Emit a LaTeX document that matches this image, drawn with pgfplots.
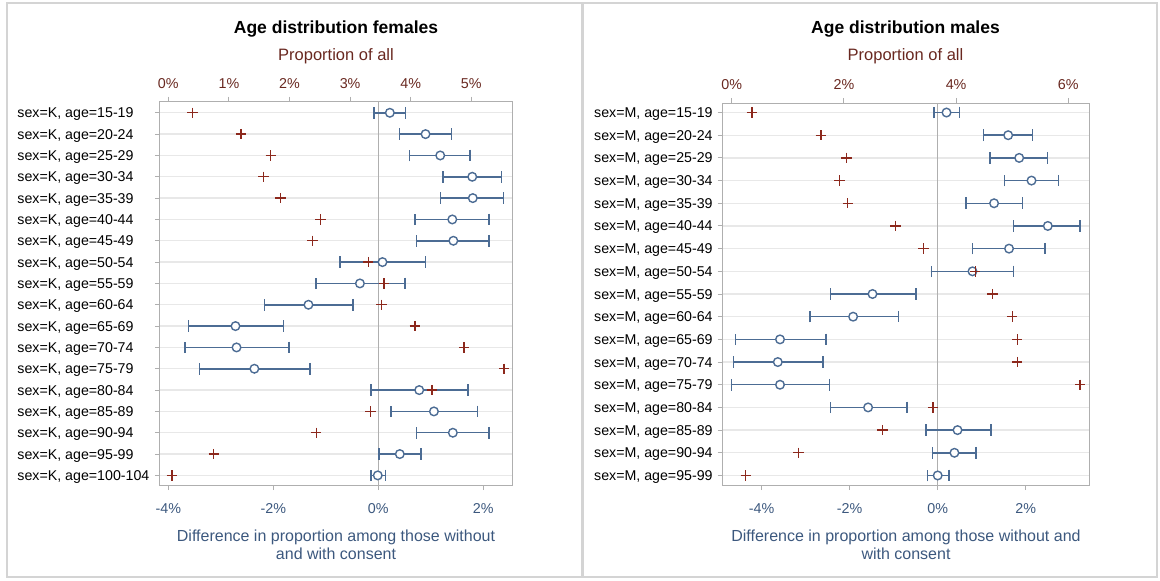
\documentclass[border=0pt]{standalone}
\usepackage{pgfplots}
\pgfplotsset{compat=1.18}
\usepackage{pgfplotstable}
\usepackage{fontspec}
\setmainfont{Liberation Sans}
\definecolor{dblue}{RGB}{76,108,148}
\definecolor{tblue}{RGB}{60,88,126}
\definecolor{dred}{RGB}{140,40,28}
\definecolor{tred}{RGB}{105,40,32}
\definecolor{gridc}{RGB}{232,232,232}
\definecolor{boxc}{RGB}{175,175,175}
\definecolor{framec}{RGB}{212,212,212}

% females: row, diff mean, low, high, proportion of all
\pgfplotstableread{
r m lo hi p
0 0.22 -0.08 0.52 0.40
1 0.90 0.40 1.40 1.20
2 1.18 0.59 1.75 1.69
3 1.79 1.23 2.35 1.57
4 1.80 1.19 2.39 1.85
5 1.41 0.70 2.11 2.51
6 1.43 0.73 2.11 2.38
7 0.08 -0.73 0.90 3.30
8 -0.35 -1.19 0.51 3.56
9 -1.33 -2.17 -0.48 3.52
10 -2.72 -3.62 -1.81 4.07
11 -2.70 -3.68 -1.70 4.88
12 -2.36 -3.41 -1.30 5.54
13 0.78 -0.14 1.71 4.35
14 1.06 0.24 1.89 3.34
15 1.42 0.73 2.11 2.44
16 0.41 0.01 0.81 0.75
17 -0.01 -0.14 0.14 0.06
}\females

% males
\pgfplotstableread{
r m lo hi p
0 0.20 -0.08 0.49 0.36
1 1.60 1.04 2.15 1.59
2 1.85 1.19 2.49 2.05
3 2.13 1.51 2.74 1.92
4 1.28 0.64 1.92 2.07
5 2.50 1.72 3.23 2.92
6 1.62 0.79 2.44 3.42
7 0.79 -0.14 1.72 4.34
8 -1.48 -2.43 -0.49 4.65
9 -1.92 -2.90 -0.89 5.00
10 -3.58 -4.59 -2.54 5.09
11 -3.63 -4.64 -2.60 5.09
12 -3.58 -4.68 -2.46 6.21
13 -1.58 -2.43 -0.70 3.59
14 0.45 -0.27 1.21 2.69
15 0.38 -0.12 0.87 1.19
16 0.00 -0.23 0.26 0.25
}\males

\pgfplotsset{
  diffax/.style={
    scale only axis, anchor=south west, y dir=reverse,
    axis line style={boxc, line width=1pt},
    tick style={boxc, line width=1pt},
    major tick length=5pt, tick align=outside,
    xtick pos=bottom, ytick pos=left,
    ymajorgrids, grid style={gridc, line width=1.3pt},
    xticklabel style={font=\fontsize{14.3}{14}\selectfont, text=tblue, inner sep=0pt, anchor=base, yshift=-23.5pt},
    yticklabel style={font=\fontsize{14.2}{14}\selectfont, text=black, inner sep=0pt, anchor=base west, yshift=-5pt},
    clip=false,
  },
  propax/.style={
    scale only axis, anchor=south west, y dir=reverse,
    axis x line*=top, hide y axis,
    axis line style={boxc, line width=1pt},
    tick style={boxc, line width=1pt},
    major tick length=5pt, tick align=outside,
    xticklabel style={font=\fontsize{14.3}{14}\selectfont, text=tred, inner sep=0pt, anchor=base, yshift=8pt},
    clip=false,
  },
  ebar/.style={only marks, mark=*, mark size=4.3pt,
    mark options={draw=dblue, fill=white, line width=1.4pt},
    error bars/.cd, x dir=both, x explicit,
    error bar style={dblue, line width=1.5pt},
    error mark=|,
    error mark options={dblue, line width=1.4pt, mark size=5.8pt}},
  plusmk/.style={only marks, mark=+, mark size=5.2pt, dred,
    mark options={line width=1.3pt}},
}

\begin{document}
\begin{tikzpicture}
\path[use as bounding box] (0pt,0pt) rectangle (1160pt,581pt);
\draw[framec, line width=2pt] (6.5pt,3.7pt) rectangle (581.5pt,578.3pt);
\draw[framec, line width=2pt] (582.7pt,3.7pt) rectangle (1157.3pt,578.3pt);

% ---------- females ----------
\begin{axis}[diffax, at={(160pt,96pt)}, width=352pt, height=383.3pt,
  xmin=-4.158, xmax=2.547, ymin=-0.52, ymax=17.45,
  xtick={-4,-2,0,2}, xticklabels={-4\%,-2\%,0\%,2\%},
  ytick={0,...,17},
  yticklabels={{sex=K, age=15-19},{sex=K, age=20-24},{sex=K, age=25-29},{sex=K, age=30-34},{sex=K, age=35-39},{sex=K, age=40-44},{sex=K, age=45-49},{sex=K, age=50-54},{sex=K, age=55-59},{sex=K, age=60-64},{sex=K, age=65-69},{sex=K, age=70-74},{sex=K, age=75-79},{sex=K, age=80-84},{sex=K, age=85-89},{sex=K, age=90-94},{sex=K, age=95-99},{sex=K, age=100-104}},
  yticklabel style={xshift=-137.7pt},
]
\draw[boxc, line width=1.3pt] (axis cs:0,-0.52) -- (axis cs:0,17.45);
\addplot+[ebar] table[x=m, y=r, x error plus expr=\thisrow{hi}-\thisrow{m}, x error minus expr=\thisrow{m}-\thisrow{lo}] {\females};
\end{axis}
\begin{axis}[propax, at={(160pt,96pt)}, width=352pt, height=383.3pt,
  xmin=-0.137, xmax=5.672, ymin=-0.52, ymax=17.45,
  xtick={0,1,2,3,4,5}, xticklabels={0\%,1\%,2\%,3\%,4\%,5\%},
]
\addplot[plusmk] table[x=p, y=r] {\females};
\end{axis}

% ---------- males ----------
\begin{axis}[diffax, at={(722.7pt,96pt)}, width=366.3pt, height=382pt,
  xmin=-4.881, xmax=3.435, ymin=-0.42, ymax=16.42,
  xtick={-4,-2,0,2}, xticklabels={-4\%,-2\%,0\%,2\%},
  ytick={0,...,16},
  yticklabels={{sex=M, age=15-19},{sex=M, age=20-24},{sex=M, age=25-29},{sex=M, age=30-34},{sex=M, age=35-39},{sex=M, age=40-44},{sex=M, age=45-49},{sex=M, age=50-54},{sex=M, age=55-59},{sex=M, age=60-64},{sex=M, age=65-69},{sex=M, age=70-74},{sex=M, age=75-79},{sex=M, age=80-84},{sex=M, age=85-89},{sex=M, age=90-94},{sex=M, age=95-99}},
  yticklabel style={xshift=-123.7pt},
]
\draw[boxc, line width=1.3pt] (axis cs:0,-0.42) -- (axis cs:0,16.42);
\addplot+[ebar] table[x=m, y=r, x error plus expr=\thisrow{hi}-\thisrow{m}, x error minus expr=\thisrow{m}-\thisrow{lo}] {\males};
\end{axis}
\begin{axis}[propax, at={(722.7pt,96pt)}, width=366.3pt, height=382pt,
  xmin=-0.160, xmax=6.369, ymin=-0.42, ymax=16.42,
  xtick={0,2,4,6}, xticklabels={0\%,2\%,4\%,6\%},
]
\addplot[plusmk] table[x=p, y=r] {\males};
\end{axis}

% ---------- texts ----------
\begin{scope}[every node/.style={anchor=base, inner sep=0pt}]
\node[font=\fontsize{17.5}{20}\selectfont\bfseries] at (336pt,547.8pt) {Age distribution females};
\node[font=\fontsize{16.5}{20}\selectfont, text=tred] at (336pt,520pt) {Proportion of all};
\node[font=\fontsize{16}{19}\selectfont, text=tblue] at (336pt,39.3pt) {Difference in proportion among those without};
\node[font=\fontsize{16}{19}\selectfont, text=tblue] at (336pt,21pt) {and with consent};
\node[font=\fontsize{17.5}{20}\selectfont\bfseries] at (905.5pt,547.8pt) {Age distribution males};
\node[font=\fontsize{16.5}{20}\selectfont, text=tred] at (905.5pt,520pt) {Proportion of all};
\node[font=\fontsize{16}{19}\selectfont, text=tblue] at (906pt,39.3pt) {Difference in proportion among those without and};
\node[font=\fontsize{16}{19}\selectfont, text=tblue] at (906pt,21pt) {with consent};
\end{scope}
\end{tikzpicture}
\end{document}
